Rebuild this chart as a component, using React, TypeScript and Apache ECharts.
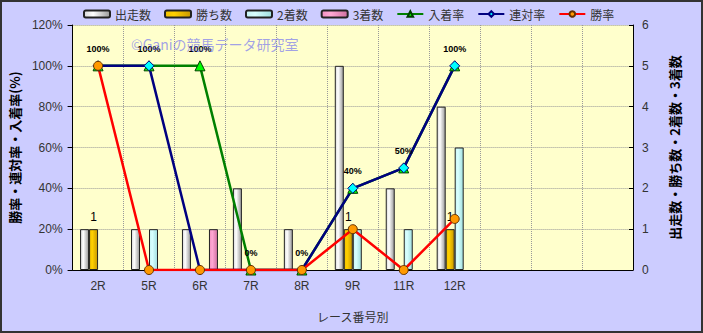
import React, { useEffect, useRef } from "react";
import * as echarts from "echarts";

const categories = ["2R", "5R", "6R", "7R", "8R", "9R", "11R", "12R"];
const emptySlots = 3;
const starts = [1, 1, 1, 2, 1, 5, 2, 4];
const wins = [1, 0, 0, 0, 0, 1, 0, 1];
const seconds = [0, 1, 0, 0, 0, 1, 1, 3];
const thirds = [0, 0, 1, 0, 0, 0, 0, 0];
const placeRate = [100, 100, 100, 0, 0, 40, 50, 100];
const quinellaRate = [100, 100, 0, 0, 0, 40, 50, 100];
const winRate = [100, 0, 0, 0, 0, 20, 0, 25];
const leftTicks = { min: 0, max: 120, interval: 20 };
const rightTicks = { min: 0, max: 6, interval: 1 };

const FONT = "'Liberation Sans', 'Noto Sans CJK JP', sans-serif";
const JP = "'Noto Sans CJK JP', sans-serif";

function grad(edge: string, mid: string, dark: string) {
  return new echarts.graphic.LinearGradient(0, 0, 1, 0, [
    { offset: 0, color: edge },
    { offset: 0.35, color: mid },
    { offset: 1, color: dark },
  ]);
}

// zero-count bars are not drawn in the reference
const hideZero = (arr: number[]) => arr.map((v) => (v === 0 ? null : v));

export default function App() {
  const ref = useRef<HTMLDivElement>(null);
  useEffect(() => {
    document.body.style.margin = "0";
    const chart = echarts.init(ref.current!, null, { renderer: "svg" });
    const xData = [...categories, ...Array(emptySlots).fill("")];
    const barBase = {
      type: "bar" as const,
      yAxisIndex: 1,
      barWidth: 9,
      barGap: "0%",
    };
    const border = { borderColor: "#222", borderWidth: 1 };
    chart.setOption({
      animation: false,
      backgroundColor: "#CCCCFF",
      textStyle: { fontFamily: FONT },
      legend: {
        left: 78,
        top: 3,
        itemWidth: 26,
        itemHeight: 7,
        itemGap: 13,
        textStyle: { fontSize: 12, color: "#333", fontFamily: JP },
        data: [
          { name: "出走数", icon: "roundRect" },
          { name: "勝ち数", icon: "roundRect" },
          { name: "2着数", icon: "roundRect" },
          { name: "3着数", icon: "roundRect" },
          { name: "入着率" },
          { name: "連対率" },
          { name: "勝率" },
        ],
      },
      graphic: [
        {
          type: "text",
          left: 131,
          top: 37,
          silent: true,
          style: {
            text: "©Ganiの競馬データ研究室",
            fontSize: 14,
            fontFamily: JP,
            fill: "rgba(100,100,245,0.6)",
          },
          z: 100,
        },
        {
          type: "rect",
          shape: { x: 1, y: 1, width: 701, height: 331 },
          style: { fill: "none", stroke: "#333", lineWidth: 2 },
          silent: true,
          z: 200,
        },
      ],
      grid: {
        left: 68,
        right: 70,
        top: 25,
        bottom: 63,
        show: true,
        backgroundColor: "#FFFFCC",
        borderWidth: 0,
      },
      xAxis: {
        type: "category",
        data: xData,
        name: "レース番号別",
        nameLocation: "middle",
        nameGap: 40,
        nameTextStyle: { fontSize: 12, color: "#333", fontFamily: JP },
        axisLine: { show: true, lineStyle: { color: "#000", width: 1 } },
        axisTick: { show: false },
        axisLabel: { fontSize: 12, color: "#333", margin: 10, interval: 0 },
        splitLine: {
          show: true,
          interval: 0,
          lineStyle: { color: "#999", type: "dotted", width: 1 },
        },
      },
      yAxis: [
        {
          type: "value",
          ...leftTicks,
          name: "勝率・連対率・入着率(%)",
          nameLocation: "middle",
          nameGap: 45,
          nameRotate: 90,
          nameTextStyle: { fontSize: 13, fontWeight: "bold", color: "#000", fontFamily: JP },
          axisLine: { show: true, lineStyle: { color: "#000" } },
          axisTick: { show: true, length: 5, lineStyle: { color: "#000" } },
          axisLabel: { formatter: "{value}%", fontSize: 12, color: "#333", margin: 10 },
          splitLine: { show: true, lineStyle: { color: "#999", type: "dotted" } },
        },
        {
          type: "value",
          ...rightTicks,
          name: "出走数・勝ち数・2着数・3着数",
          nameLocation: "middle",
          nameGap: 35,
          nameRotate: 90,
          nameTextStyle: { fontSize: 13, fontWeight: "bold", color: "#000", fontFamily: JP },
          axisLine: { show: true, lineStyle: { color: "#000" } },
          axisTick: { show: true, length: 4, inside: true, lineStyle: { color: "#000" } },
          axisLabel: { fontSize: 12, color: "#333", margin: 9 },
          splitLine: { show: false },
        },
      ],
      series: [
        {
          ...barBase,
          name: "出走数",
          data: hideZero(starts),
          itemStyle: { color: grad("#d8d8d8", "#ffffff", "#9a9a9a"), ...border },
        },
        {
          ...barBase,
          name: "勝ち数",
          data: hideZero(wins),
          itemStyle: { color: grad("#f0c000", "#ffd000", "#c89800"), ...border },
          label: {
            show: true,
            position: "top",
            distance: 6,
            fontSize: 12,
            color: "#000",
            formatter: (p: any) => (p.value > 0 ? String(p.value) : ""),
          },
        },
        {
          ...barBase,
          name: "2着数",
          data: hideZero(seconds),
          itemStyle: { color: grad("#c8f4f4", "#d8ffff", "#a0dede"), ...border },
        },
        {
          ...barBase,
          name: "3着数",
          data: hideZero(thirds),
          itemStyle: { color: grad("#f090c0", "#ffa8d4", "#d070a0"), ...border },
        },
        {
          type: "line",
          name: "入着率",
          yAxisIndex: 0,
          data: placeRate,
          symbol: "triangle",
          symbolSize: 10,
          lineStyle: { color: "#008000", width: 2.5 },
          itemStyle: { color: "#00ff00", borderColor: "#004000", borderWidth: 1 },
          label: {
            show: true,
            position: "top",
            distance: 7,
            formatter: "{c}%",
            fontSize: 9,
            fontWeight: "bold",
            color: "#000",
          },
        },
        {
          type: "line",
          name: "連対率",
          yAxisIndex: 0,
          data: quinellaRate,
          symbol: "diamond",
          symbolSize: 10,
          lineStyle: { color: "#000080", width: 2.5 },
          itemStyle: { color: "#00ffff", borderColor: "#000080", borderWidth: 1 },
        },
        {
          type: "line",
          name: "勝率",
          yAxisIndex: 0,
          data: winRate,
          symbol: "circle",
          symbolSize: 9,
          lineStyle: { color: "#ff0000", width: 2.5 },
          itemStyle: { color: "#ff9900", borderColor: "#663300", borderWidth: 1 },
        },
      ],
    });
    return () => chart.dispose();
  }, []);
  return <div ref={ref} style={{ width: 703, height: 333 }} />;
}
